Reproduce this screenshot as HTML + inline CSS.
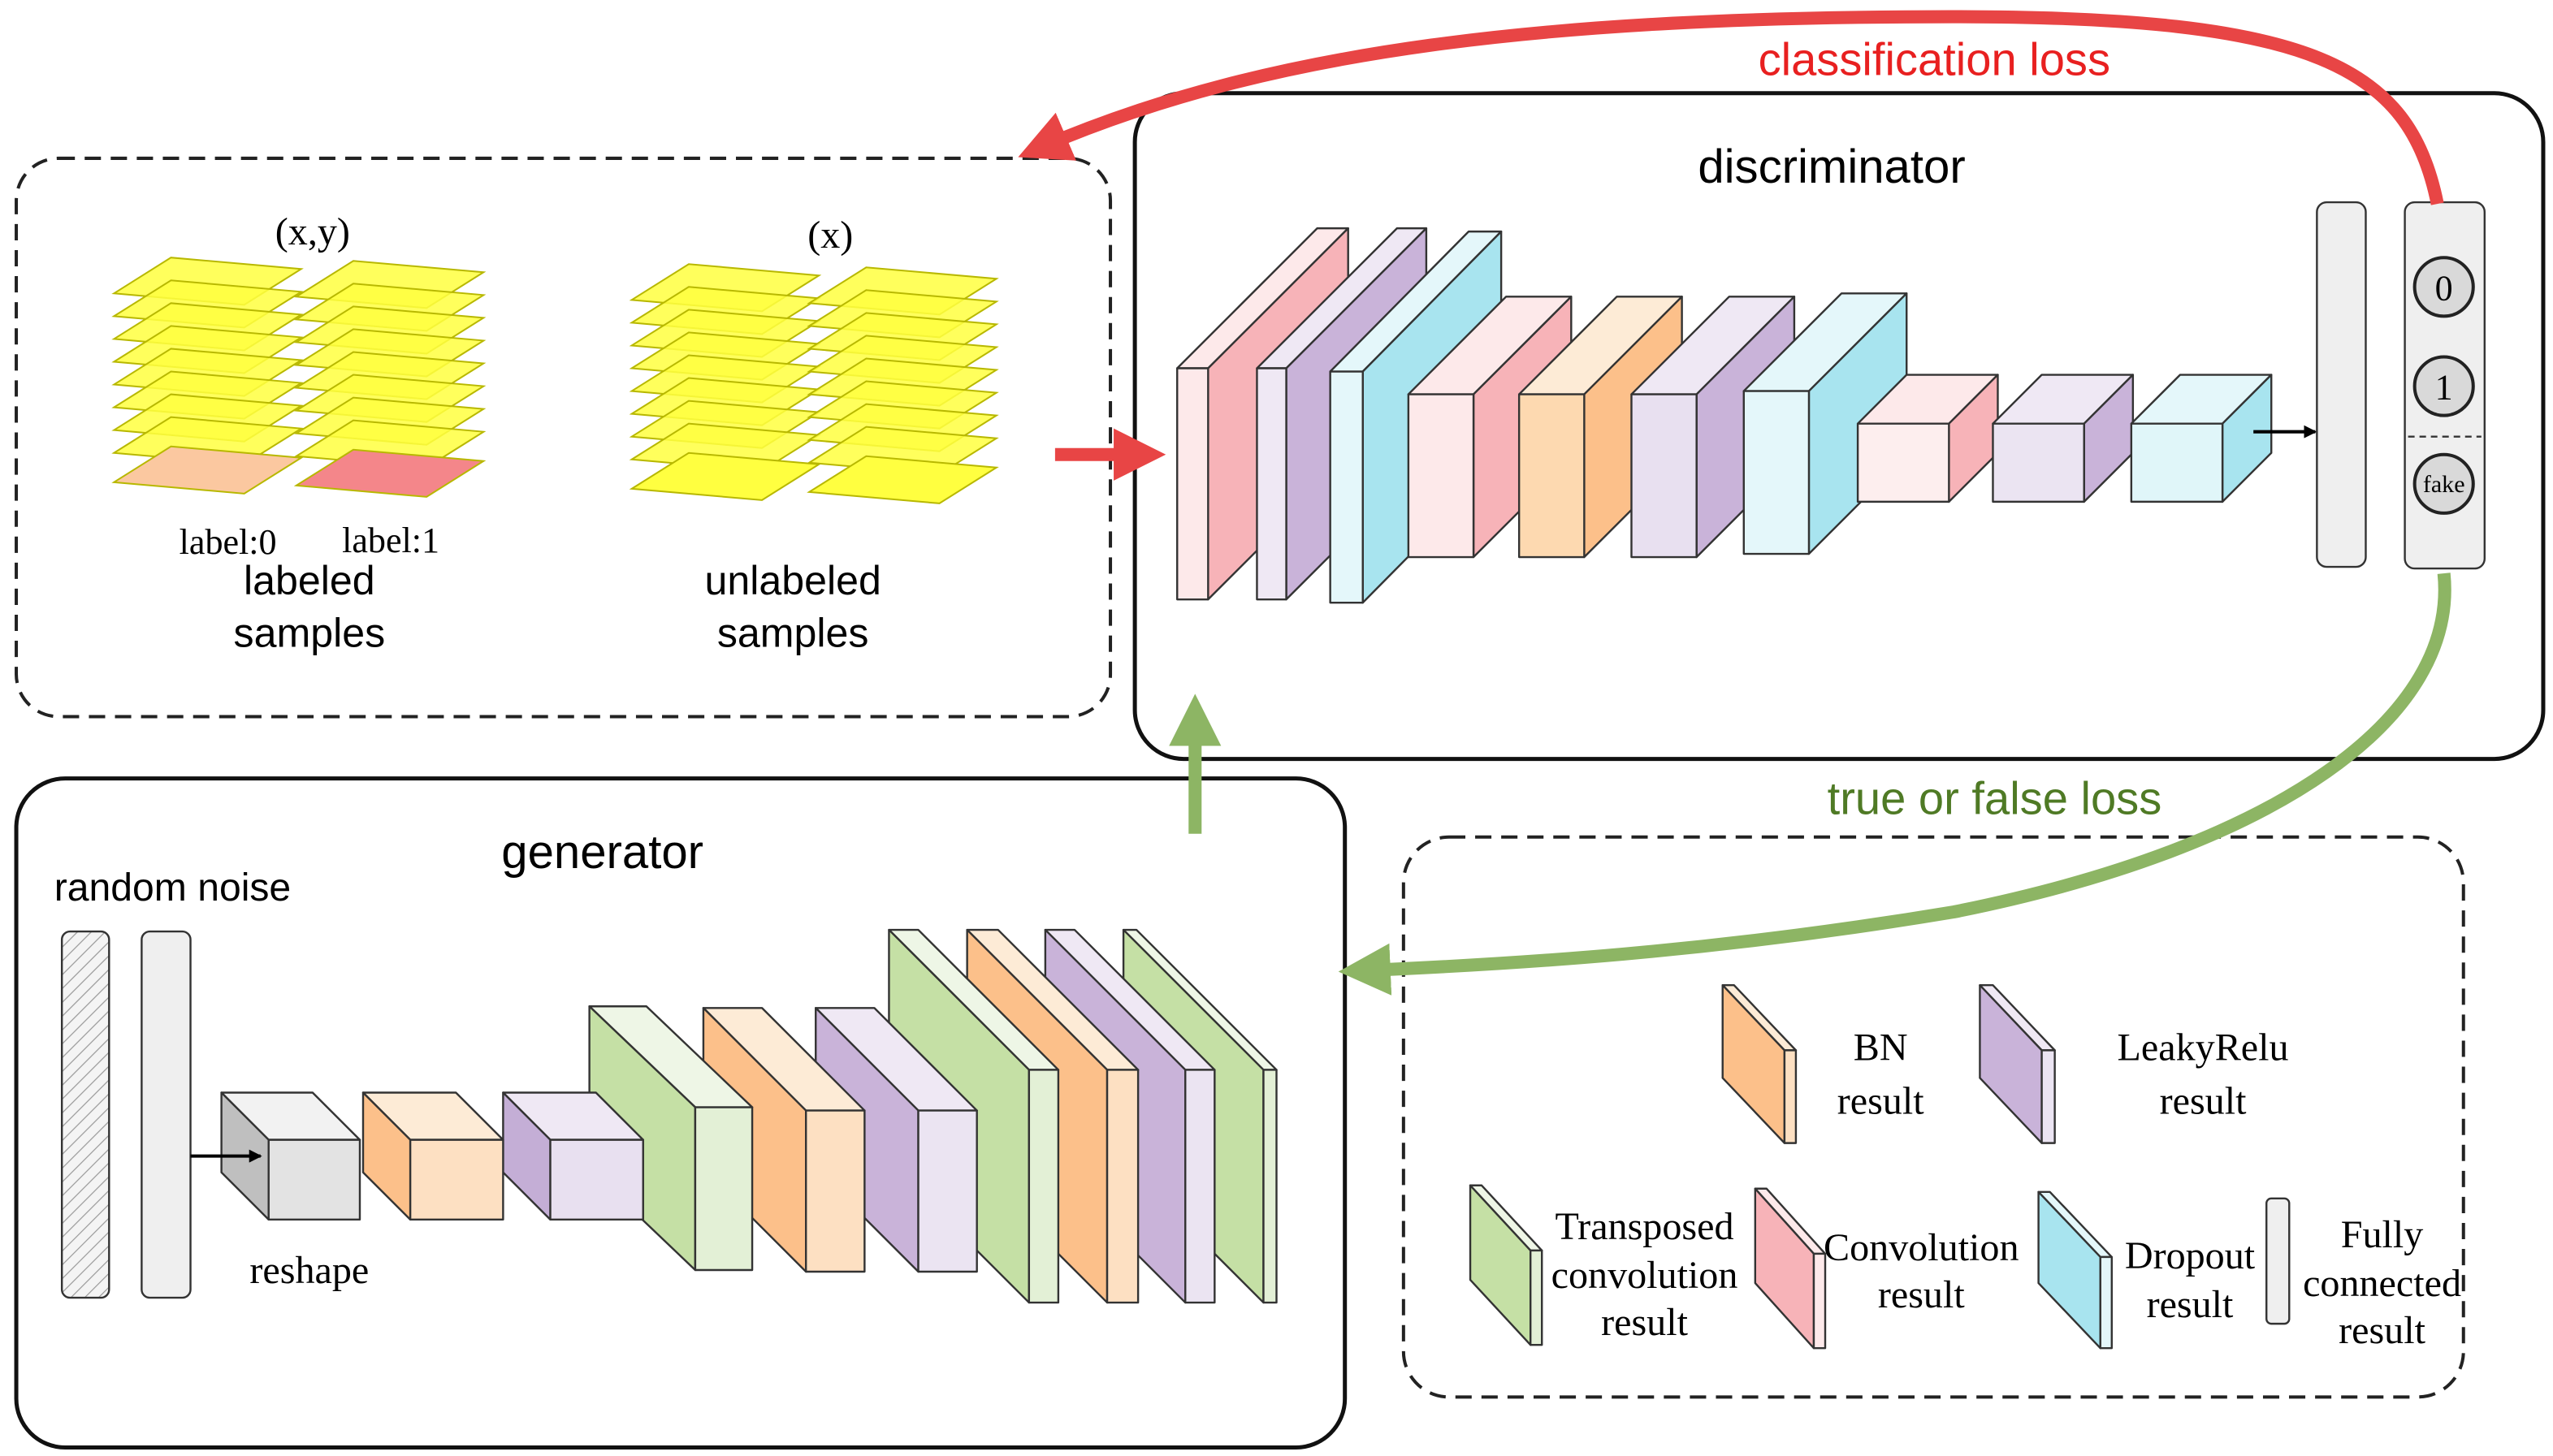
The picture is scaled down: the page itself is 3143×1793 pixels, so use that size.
<!DOCTYPE html>
<html><head><meta charset="utf-8"><style>
html,body{margin:0;padding:0;background:#fff}
svg{display:block}
.s{font-family:"Liberation Sans",sans-serif}
.r{font-family:"Liberation Serif",serif}
</style></head><body>
<svg width="3143" height="1793" viewBox="0 0 1568 894" xmlns="http://www.w3.org/2000/svg">
<defs>
<pattern id="hatch" width="6" height="6" patternUnits="userSpaceOnUse" patternTransform="rotate(45)">
<rect width="6" height="6" fill="#f4f4f4"/><line x1="0" y1="0" x2="0" y2="6" stroke="#999" stroke-width="1.2"/></pattern>
<marker id="ar" markerWidth="4" markerHeight="4" refX="2" refY="2" orient="auto" markerUnits="strokeWidth"><path d="M0,0 L4,2 L0,4 z" fill="#e84545"/></marker>
<marker id="ag" markerWidth="4" markerHeight="4" refX="2" refY="2" orient="auto" markerUnits="strokeWidth"><path d="M0,0 L4,2 L0,4 z" fill="#8db564"/></marker>
<marker id="ak" markerWidth="8" markerHeight="8" refX="7" refY="4" orient="auto" markerUnits="userSpaceOnUse"><path d="M0,0 L8,4 L0,8 z" fill="#000"/></marker>
</defs>

<rect x="10" y="97" width="672" height="343" rx="26" fill="none" stroke="#222" stroke-width="2" stroke-dasharray="10,6"/>
<rect x="697" y="57" width="865" height="409" rx="30" fill="none" stroke="#111" stroke-width="2.5"/>
<rect x="10" y="478" width="816" height="411" rx="30" fill="none" stroke="#111" stroke-width="2.5"/>
<rect x="862" y="514" width="651" height="344" rx="28" fill="none" stroke="#222" stroke-width="2" stroke-dasharray="10,6"/>

<g stroke="#b8b800" stroke-width="1">
<g id="stk">
<polygon points="70,180 105,158 185,165 150,187" fill="#ffff40" fill-opacity="0.85"/>
<polygon points="70,194 105,172 185,179 150,201" fill="#ffff40" fill-opacity="0.85"/>
<polygon points="70,208 105,186 185,193 150,215" fill="#ffff40" fill-opacity="0.85"/>
<polygon points="70,222 105,200 185,207 150,229" fill="#ffff40" fill-opacity="0.85"/>
<polygon points="70,236 105,214 185,221 150,243" fill="#ffff40" fill-opacity="0.85"/>
<polygon points="70,250 105,228 185,235 150,257" fill="#ffff40" fill-opacity="0.85"/>
<polygon points="70,264 105,242 185,249 150,271" fill="#ffff40" fill-opacity="0.85"/>
<polygon points="70,278 105,256 185,263 150,285" fill="#ffff40" fill-opacity="0.85"/>
</g>
<polygon points="70,296 105,274 185,281 150,303" fill="#fbc8a0"/>
<use href="#stk" x="112" y="2"/>
<polygon points="182,298 217,276 297,283 262,305" fill="#f4868a"/>
<use href="#stk" x="318" y="4"/>
<polygon points="388,300 423,278 503,285 468,307" fill="#ffff40"/>
<use href="#stk" x="427" y="6"/>
<polygon points="497,302 532,280 612,287 577,309" fill="#ffff40"/>
</g>
<text x="192" y="150" class="r" font-size="24" text-anchor="middle">(x,y)</text>
<text x="140" y="340" class="r" font-size="22" text-anchor="middle">label:0</text>
<text x="240" y="339" class="r" font-size="22" text-anchor="middle">label:1</text>
<text x="190" y="365" class="s" font-size="25" text-anchor="middle">labeled</text>
<text x="190" y="397" class="s" font-size="25" text-anchor="middle">samples</text>
<text x="510" y="152" class="r" font-size="24" text-anchor="middle">(x)</text>
<text x="487" y="365" class="s" font-size="25" text-anchor="middle">unlabeled</text>
<text x="487" y="397" class="s" font-size="25" text-anchor="middle">samples</text>

<text x="1125" y="112" class="s" font-size="29" text-anchor="middle">discriminator</text>
<g stroke="#333" stroke-width="1.2" stroke-linejoin="round">
<polygon points="723,226 809,140 828,140 742,226" fill="#fde9ea"/>
<polygon points="742,226 828,140 828,282 742,368" fill="#f7b3b8"/>
<rect x="723" y="226" width="19" height="142" fill="#fde9ea"/>
<polygon points="772,226 858,140 876,140 790,226" fill="#efe8f4"/>
<polygon points="790,226 876,140 876,282 790,368" fill="#c9b3d9"/>
<rect x="772" y="226" width="18" height="142" fill="#efe8f4"/>
<polygon points="817,228 902,142 922,142 837,228" fill="#e4f7fa"/>
<polygon points="837,228 922,142 922,284 837,370" fill="#a8e4ef"/>
<rect x="817" y="228" width="20" height="142" fill="#e4f7fa"/>
<polygon points="865,242 925,182 965,182 905,242" fill="#fde9ea"/>
<polygon points="905,242 965,182 965,282 905,342" fill="#f7b3b8"/>
<rect x="865" y="242" width="40" height="100" fill="#fde9ea"/>
<polygon points="933,242 993,182 1033,182 973,242" fill="#fdebd6"/>
<polygon points="973,242 1033,182 1033,282 973,342" fill="#fcc08a"/>
<rect x="933" y="242" width="40" height="100" fill="#fdd9b0"/>
<polygon points="1002,242 1062,182 1102,182 1042,242" fill="#efe8f4"/>
<polygon points="1042,242 1102,182 1102,282 1042,342" fill="#c9b3d9"/>
<rect x="1002" y="242" width="40" height="100" fill="#e8e0f0"/>
<polygon points="1071,240 1131,180 1171,180 1111,240" fill="#e4f7fa"/>
<polygon points="1111,240 1171,180 1171,280 1111,340" fill="#a8e4ef"/>
<rect x="1071" y="240" width="40" height="100" fill="#e4f7fa"/>
<polygon points="1141,260 1171,230 1227,230 1197,260" fill="#fde9ea"/>
<polygon points="1197,260 1227,230 1227,278 1197,308" fill="#f7b3b8"/>
<rect x="1141" y="260" width="56" height="48" fill="#fdeeee"/>
<polygon points="1224,260 1254,230 1310,230 1280,260" fill="#efe8f4"/>
<polygon points="1280,260 1310,230 1310,278 1280,308" fill="#c9b3d9"/>
<rect x="1224" y="260" width="56" height="48" fill="#ebe4f2"/>
<polygon points="1309,260 1339,230 1395,230 1365,260" fill="#e4f7fa"/>
<polygon points="1365,260 1395,230 1395,278 1365,308" fill="#a8e4ef"/>
<rect x="1309" y="260" width="56" height="48" fill="#e0f6f9"/>
</g>
<line x1="1384" y1="265" x2="1422" y2="265" stroke="#000" stroke-width="2" marker-end="url(#ak)"/>
<rect x="1423" y="124" width="30" height="224" rx="6" fill="#efefef" stroke="#333" stroke-width="1.2"/>
<rect x="1477" y="124" width="49" height="225" rx="6" fill="#efefef" stroke="#333" stroke-width="1.2"/>
<g stroke="#222" stroke-width="2" fill="#d9d9d9">
<circle cx="1501" cy="176" r="18"/><circle cx="1501" cy="237" r="18"/><circle cx="1501" cy="297" r="18"/>
</g>
<line x1="1479" y1="268" x2="1524" y2="268" stroke="#333" stroke-width="1.2" stroke-dasharray="4,3"/>
<text x="1501" y="184" class="r" font-size="22" text-anchor="middle">0</text>
<text x="1501" y="245" class="r" font-size="22" text-anchor="middle">1</text>
<text x="1501" y="302" class="r" font-size="15" text-anchor="middle">fake</text>

<text x="370" y="533" class="s" font-size="29" text-anchor="middle">generator</text>
<text x="106" y="553" class="s" font-size="24" text-anchor="middle">random noise</text>
<rect x="38" y="572" width="29" height="225" rx="5" fill="url(#hatch)" stroke="#333" stroke-width="1.2"/>
<rect x="87" y="572" width="30" height="225" rx="5" fill="#efefef" stroke="#333" stroke-width="1.2"/>
<text x="190" y="788" class="r" font-size="24" text-anchor="middle">reshape</text>
<g stroke="#333" stroke-width="1.2" stroke-linejoin="round">
<!-- drawn right to left -->
<polygon points="690,571 698,571 784,657 776,657" fill="#eef6e6"/>
<polygon points="690,571 776,657 776,800 690,714" fill="#c5e0a5"/>
<rect x="776" y="657" width="8" height="143" fill="#e3f0d6"/>
<polygon points="642,571 660,571 746,657 728,657" fill="#efe8f4"/>
<polygon points="642,571 728,657 728,800 642,714" fill="#c9b3d9"/>
<rect x="728" y="657" width="18" height="143" fill="#ebe4f2"/>
<polygon points="594,571 613,571 699,657 680,657" fill="#fdebd6"/>
<polygon points="594,571 680,657 680,800 594,714" fill="#fcc08a"/>
<rect x="680" y="657" width="19" height="143" fill="#fde0c2"/>
<polygon points="546,571 564,571 650,657 632,657" fill="#eef6e6"/>
<polygon points="546,571 632,657 632,800 546,714" fill="#c5e0a5"/>
<rect x="632" y="657" width="18" height="143" fill="#e3f0d6"/>
<polygon points="501,619 537,619 600,682 564,682" fill="#efe8f4"/>
<polygon points="501,619 564,682 564,781 501,718" fill="#c9b3d9"/>
<rect x="564" y="682" width="36" height="99" fill="#ebe4f2"/>
<polygon points="432,619 468,619 531,682 495,682" fill="#fdebd6"/>
<polygon points="432,619 495,682 495,781 432,718" fill="#fcc08a"/>
<rect x="495" y="682" width="36" height="99" fill="#fde0c2"/>
<polygon points="362,618 397,618 462,680 427,680" fill="#eef6e6"/>
<polygon points="362,618 427,680 427,780 362,718" fill="#c5e0a5"/>
<rect x="427" y="680" width="35" height="100" fill="#e3f0d6"/>
<polygon points="309,671 366,671 395,700 338,700" fill="#efe8f4"/>
<polygon points="309,671 338,700 338,749 309,720" fill="#c4aed6"/>
<rect x="338" y="700" width="57" height="49" fill="#e8e0f0"/>
<polygon points="223,671 280,671 309,700 252,700" fill="#fdebd6"/>
<polygon points="223,671 252,700 252,749 223,720" fill="#fcc08a"/>
<rect x="252" y="700" width="57" height="49" fill="#fde0c2"/>
<polygon points="136,671 192,671 221,700 165,700" fill="#f2f2f2"/>
<polygon points="136,671 165,700 165,749 136,720" fill="#bfbfbf"/>
<rect x="165" y="700" width="56" height="49" fill="#e3e3e3"/>
</g>
<line x1="117" y1="710" x2="160" y2="710" stroke="#000" stroke-width="2" marker-end="url(#ak)"/>

<g stroke="#333" stroke-width="1.2" stroke-linejoin="round">
<polygon points="1058,605 1065,605 1103,645 1096,645" fill="#fdebd6"/>
<polygon points="1058,605 1096,645 1096,702 1058,662" fill="#fcc08a"/>
<rect x="1096" y="645" width="7" height="57" fill="#fde0c2"/>
<polygon points="1216,605 1224,605 1262,645 1254,645" fill="#efe8f4"/>
<polygon points="1216,605 1254,645 1254,702 1216,662" fill="#c9b3d9"/>
<rect x="1254" y="645" width="8" height="57" fill="#ebe4f2"/>
<polygon points="903,728 910,728 947,768 940,768" fill="#eef6e6"/>
<polygon points="903,728 940,768 940,826 903,786" fill="#c5e0a5"/>
<rect x="940" y="768" width="7" height="58" fill="#e3f0d6"/>
<polygon points="1078,730 1085,730 1121,770 1114,770" fill="#fde9ea"/>
<polygon points="1078,730 1114,770 1114,828 1078,788" fill="#f7b3b8"/>
<rect x="1114" y="770" width="7" height="58" fill="#fde9ea"/>
<polygon points="1252,732 1259,732 1297,772 1290,772" fill="#e4f7fa"/>
<polygon points="1252,732 1290,772 1290,828 1252,788" fill="#a8e4ef"/>
<rect x="1290" y="772" width="7" height="56" fill="#e4f7fa"/>
</g>
<rect x="1392" y="736" width="14" height="77" rx="3" fill="#efefef" stroke="#333" stroke-width="1.2"/>
<g class="r" font-size="24" text-anchor="middle">
<text x="1155" y="651">BN</text><text x="1155" y="684">result</text>
<text x="1353" y="651">LeakyRelu</text><text x="1353" y="684">result</text>
<text x="1010" y="761">Transposed</text><text x="1010" y="791">convolution</text><text x="1010" y="820">result</text>
<text x="1180" y="774">Convolution</text><text x="1180" y="803">result</text>
<text x="1345" y="779">Dropout</text><text x="1345" y="809">result</text>
<text x="1463" y="766">Fully</text><text x="1463" y="796">connected</text><text x="1463" y="825">result</text>
</g>

<line x1="648" y1="279" x2="700" y2="279" stroke="#e84545" stroke-width="8" marker-end="url(#ar)"/>
<path d="M1497,125 C1480,40 1420,10 1200,10 C950,10 780,30 640,90" fill="none" stroke="#e84545" stroke-width="8" marker-end="url(#ar)"/>
<text x="1188" y="46" class="s" font-size="28" fill="#e82020" text-anchor="middle">classification loss</text>
<line x1="734" y1="512" x2="734" y2="442" stroke="#8db564" stroke-width="8" marker-end="url(#ag)"/>
<path d="M1501,352 C1510,440 1400,520 1200,560 C1050,585 930,592 838,596" fill="none" stroke="#8db564" stroke-width="8" marker-end="url(#ag)"/>
<text x="1225" y="500" class="s" font-size="28" fill="#4f7a25" text-anchor="middle">true or false loss</text>
</svg>
</body></html>
